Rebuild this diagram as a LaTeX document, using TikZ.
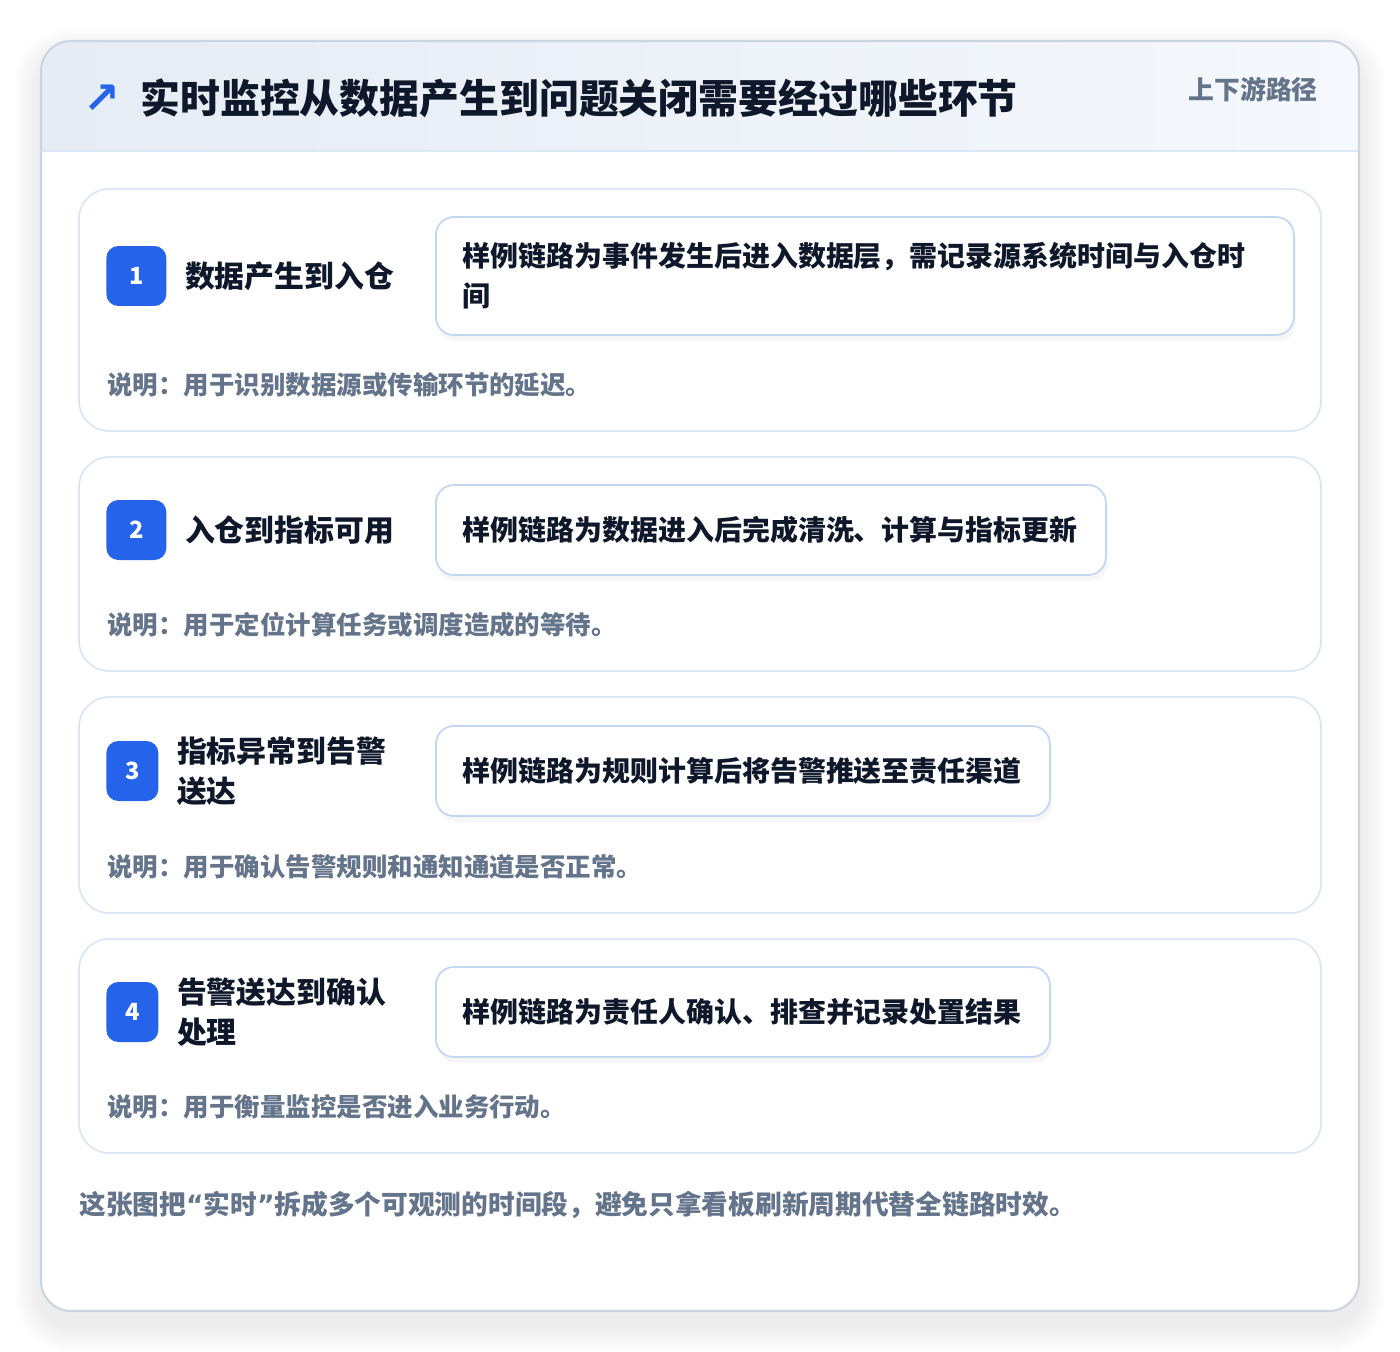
\documentclass[tikz,border=0pt]{standalone}
\usepackage{fontspec}
\setmainfont{Noto Sans CJK SC}
\newfontfamily\symfont{DejaVu Sans}
\usetikzlibrary{positioning, shadows}
\definecolor{ink}{HTML}{0F172A}
\definecolor{muted}{HTML}{64748B}
\definecolor{accent}{HTML}{2563EB}
\definecolor{edge}{HTML}{CBD5E1}
\definecolor{softline}{HTML}{DCE7F5}
\definecolor{boxline}{HTML}{C3D7F2}

\begin{document}
\begin{tikzpicture}[x=0.02cm, y=-0.02cm,
    card/.style={draw=softline, line width=1pt, fill=white, rounded corners=0.6cm},
    sample/.style={draw=boxline, line width=1pt, fill=white, rounded corners=0.36cm, anchor=west,
      inner xsep=0.54cm, align=left, text=ink, font=\fontsize{15.9}{22.7}\selectfont\bfseries,
      drop shadow={shadow xshift=0.04cm, shadow yshift=-0.12cm, opacity=0.035, fill=black}},
    badge/.style={fill=accent, rounded corners=0.24cm, text=white, inner sep=0pt,
      font=\fontsize{13.5}{14}\selectfont\bfseries},
    stepname/.style={anchor=west, align=left, inner sep=0pt, text=ink, font=\fontsize{17}{22.7}\selectfont\bfseries},
    note/.style={anchor=west, inner sep=0pt, text=muted, font=\fontsize{14.5}{16}\selectfont\bfseries}]
  \fill[white] (0,0) rectangle (1400,1352);
  \useasboundingbox (0,0) rectangle (1400,1352);
  % soft shadow of the panel
  \foreach \k in {1,...,9}
    \fill[black, opacity=0.007, rounded corners=0.6cm+\k*0.06cm] ({41-3*\k},{55-3*\k}) rectangle ({1359+3*\k},{1325+3*\k});
  \fill[white, rounded corners=0.6cm] (41,41) rectangle (1359,1311);
  \begin{scope}
    \clip[rounded corners=0.6cm] (41,41) rectangle (1359,1311);
    \shade[left color={rgb,255:red,229;green,236;blue,245}, right color={rgb,255:red,245;green,248;blue,252}] (41,41) rectangle (1359,151);
  \end{scope}
  \draw[softline, line width=1pt] (41,151) -- (1359,151);
  \draw[edge, line width=1.2pt, rounded corners=0.6cm] (41,41) rectangle (1359,1311);

  \node[text=accent, inner sep=0pt, font=\symfont\bfseries\fontsize{25}{25}\selectfont] (icon) at (102,99) {↗};
  \node[anchor=west, inner sep=0pt, text=ink, font=\fontsize{22.7}{24}\selectfont\bfseries] (title) at (140,98)
    {实时监控从数据产生到问题关闭需要经过哪些环节};
  \node[anchor=east, inner sep=0pt, text=muted, font=\fontsize{14.7}{16}\selectfont\bfseries] (tag) at (1318,90) {上下游路径};

  \foreach \n/\ct/\cy/\cb/\bw/\name/\sw/\sh/\body/\txt in {
    1/189/276/431/60/{数据产生到入仓}/858/118/{样例链路为事件发生后进入数据层，需记录源系统时间与入仓时\\间}/{用于识别数据源或传输环节的延迟。},
    2/457/530/671/60/{入仓到指标可用}/670/90/{样例链路为数据进入后完成清洗、计算与指标更新}/{用于定位计算任务或调度造成的等待。},
    3/697/771/913/52/{指标异常到告警\\送达}/614/90/{样例链路为规则计算后将告警推送至责任渠道}/{用于确认告警规则和通知通道是否正常。},
    4/939/1012/1153/52/{告警送达到确认\\处理}/614/90/{样例链路为责任人确认、排查并记录处置结果}/{用于衡量监控是否进入业务行动。}}{
    \pgfmathsetmacro\bwcm{\bw*0.02}
    \pgfmathsetmacro\twcm{(\sw-54)*0.02}
    \pgfmathsetmacro\shcm{\sh*0.02}
    \draw[card] (79,\ct) rectangle (1321,\cb);
    \node[badge, minimum width=\bwcm cm, minimum height=1.2cm, anchor=west] (badge\n) at (106,\cy) {\n};
    \node[stepname, right=0.36cm of badge\n] (name\n) {\name};
    \node[sample, text width=\twcm cm, minimum height=\shcm cm] (sample\n) at (435,\cy) {\body};
    \node[note] (note\n) at (107,{\cb-46}) {说明：\txt};
  }

  \node[anchor=west, inner sep=0pt, text=muted, font=\fontsize{15.2}{16}\selectfont\bfseries] (footer) at (79,1205)
    {这张图把{\symfont “}实时{\symfont ”}拆成多个可观测的时间段，避免只拿看板刷新周期代替全链路时效。};
\end{tikzpicture}
\end{document}
